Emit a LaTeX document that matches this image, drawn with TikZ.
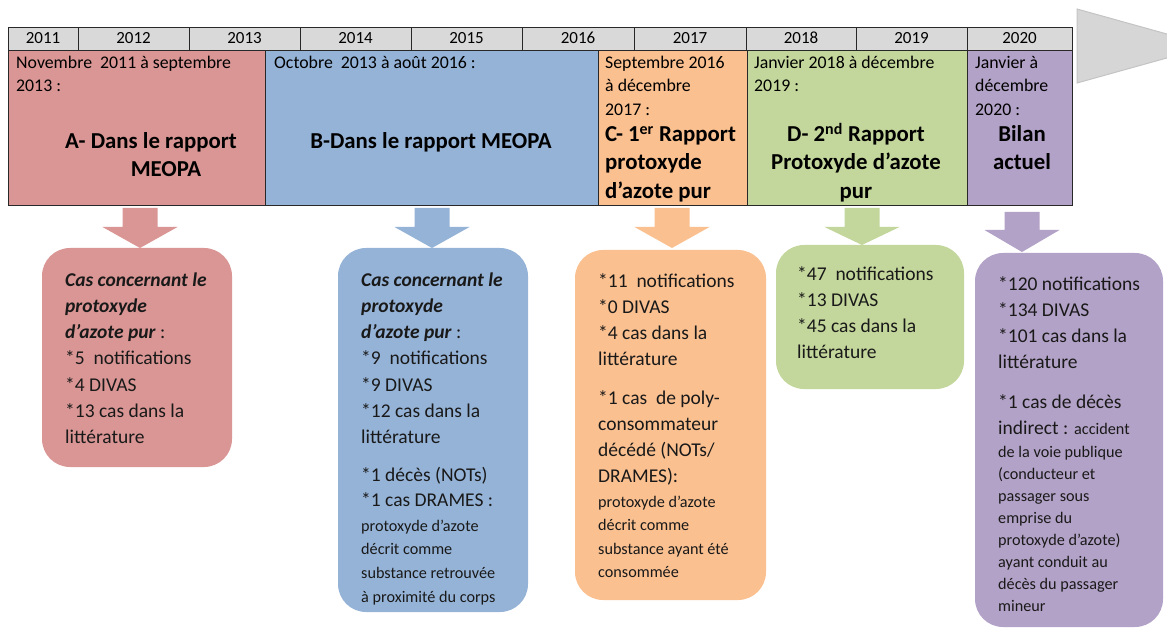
\documentclass[tikz,border=0pt]{standalone}
\usepackage{fontspec}
\setmainfont{Carlito}
\definecolor{redc}{RGB}{217,150,148}
\definecolor{bluec}{RGB}{149,179,215}
\definecolor{orangec}{RGB}{250,192,144}
\definecolor{greenc}{RGB}{195,214,155}
\definecolor{purplec}{RGB}{179,162,199}
\definecolor{yearc}{RGB}{217,217,217}
\definecolor{tric}{RGB}{214,214,214}
\definecolor{trib}{RGB}{196,196,196}
\definecolor{txt}{RGB}{25,25,25}
\definecolor{linec}{RGB}{40,40,40}
\newcommand\dnarrow[5]{\fill[#5] (#1-17.5,#2) -- (#1+17.5,#2) -- (#1+17.5,#3) -- (#1+37.5,#3) -- (#1,#4) -- (#1-37.5,#3) -- (#1-17.5,#3) -- cycle;}
\begin{document}
\begin{tikzpicture}[x=1pt,y=-1pt,
  yearcell/.style={draw=linec, line width=0.9pt, fill=yearc, minimum height=23pt, inner sep=0pt},
  yeartxt/.style={anchor=base, inner sep=0pt, font=\fontsize{17}{21}\selectfont},
  bandcell/.style={draw=linec, line width=0.9pt, minimum height=155pt, inner sep=0pt},
  bandsmall/.style={anchor=north west, inner sep=0pt, align=left, font=\fontsize{17.8}{23.5}\selectfont},
  titletxt/.style={inner sep=0pt, font=\bfseries\fontsize{22.8}{28.4}\selectfont},
  rbox/.style={rounded corners=28pt, inner sep=0pt},
  boxtext/.style={anchor=north west, inner sep=0pt, align=left, text=txt, font=\fontsize{19.5}{26.3}\selectfont},
  smalltext/.style={anchor=north west, inner sep=0pt, align=left, text=txt, font=\fontsize{16.2}{23.7}\selectfont}
]
\useasboundingbox (0,0) rectangle (1167,628);
\begin{scope}
\clip (0,0) rectangle (1167,628);
% grey timeline arrow head
\filldraw[fill=tric, draw=trib, line width=1pt] (1077,9) -- (1210,46) -- (1077,83) -- cycle;

% year row
\node[yearcell, minimum width=70pt]  (y2011) at (43,38.5) {};
\node[yearcell, minimum width=111pt] (y2012) at (133.5,38.5) {};
\node[yearcell, minimum width=111pt] (y2013) at (244.5,38.5) {};
\node[yearcell, minimum width=111pt] (y2014) at (355.5,38.5) {};
\node[yearcell, minimum width=111pt] (y2015) at (466.5,38.5) {};
\node[yearcell, minimum width=112pt] (y2016) at (578,38.5) {};
\node[yearcell, minimum width=112pt] (y2017) at (690,38.5) {};
\node[yearcell, minimum width=110pt] (y2018) at (801,38.5) {};
\node[yearcell, minimum width=111pt] (y2019) at (911.5,38.5) {};
\node[yearcell, minimum width=105pt] (y2020) at (1019.5,38.5) {};
\node[yeartxt] (t2011) at (43,44) {2011};
\node[yeartxt] (t2012) at (133.5,44) {2012};
\node[yeartxt] (t2013) at (244.5,44) {2013};
\node[yeartxt] (t2014) at (355.5,44) {2014};
\node[yeartxt] (t2015) at (466.5,44) {2015};
\node[yeartxt] (t2016) at (578,44) {2016};
\node[yeartxt] (t2017) at (690,44) {2017};
\node[yeartxt] (t2018) at (801,44) {2018};
\node[yeartxt] (t2019) at (911.5,44) {2019};
\node[yeartxt] (t2020) at (1019.5,44) {2020};

% coloured band
\node[bandcell, fill=redc, minimum width=257pt] (bandA) at (136.5,127.5) {};
\node[bandcell, fill=bluec, minimum width=333pt] (bandB) at (431.5,127.5) {};
\node[bandcell, fill=orangec, minimum width=149pt] (bandC) at (672.5,127.5) {};
\node[bandcell, fill=greenc, minimum width=220pt] (bandD) at (857,127.5) {};
\node[bandcell, fill=purplec, minimum width=105pt] (bandE) at (1019.5,127.5) {};

\node[bandsmall] (sA) at (16,51.5) {\strut Novembre\ \ 2011 à septembre\\2013 :};
\node[bandsmall] (sB) at (274,51.5) {\strut Octobre\ \ 2013 à août 2016 :};
\node[bandsmall] (sC) at (605,51.5) {\strut Septembre 2016\\à décembre\\2017 :};
\node[bandsmall] (sD) at (754,51.5) {\strut Janvier 2018 à décembre\\2019 :};
\node[bandsmall] (sE) at (975,51.5) {\strut Janvier à\\décembre\\2020 :};

\node[titletxt, anchor=north, align=center] (hA) at (151,128.5) {\strut A- Dans le rapport\\\hspace*{30pt}MEOPA};
\node[titletxt, anchor=north, align=center] (hB) at (431,128.5) {\strut B-Dans le rapport MEOPA};
\node[titletxt, anchor=north west, align=left] (hC) at (605,121.5) {\strut C- 1\textsuperscript{er} Rapport\\protoxyde\\d’azote pur};
\node[titletxt, anchor=north, align=center] (hD) at (856,121.5) {\strut D- 2\textsuperscript{nd} Rapport\\Protoxyde d’azote\\pur};
\node[titletxt, anchor=north, align=center] (hE) at (1022,121.5) {\strut Bilan\\actuel};

% block arrows
\dnarrow{140}{208}{227}{248}{redc}
\dnarrow{432}{208}{227}{248}{bluec}
\dnarrow{672}{208}{227}{248}{orangec}
\dnarrow{862}{208}{227}{245}{greenc}
\dnarrow{1022}{212}{230}{252}{purplec}

% rounded boxes
\node[rbox, fill=redc, minimum width=190pt, minimum height=219pt] (boxA) at (137,357.5) {};
\node[rbox, fill=bluec, minimum width=190pt, minimum height=364pt] (boxB) at (433,430) {};
\node[rbox, fill=orangec, minimum width=191pt, minimum height=350pt] (boxC) at (670.5,425) {};
\node[rbox, fill=greenc, minimum width=188pt, minimum height=144pt] (boxD) at (870,317) {};
\node[rbox, fill=purplec, minimum width=188pt, minimum height=374pt] (boxE) at (1069,440) {};

% box texts
\node[boxtext] (bA) at (65,267.4) {\strut\textbf{\textit{Cas concernant le}}\\\textbf{\textit{protoxyde}}\\\textbf{\textit{d’azote pur}} :\\*5\ \ notifications\\*4 DIVAS\\*13 cas dans la\\littérature};

\node[boxtext] (bB1) at (361,267.4) {\strut\textbf{\textit{Cas concernant le}}\\\textbf{\textit{protoxyde}}\\\textbf{\textit{d’azote pur}} :\\*9\ \ notifications\\*9 DIVAS\\*12 cas dans la\\littérature};
\node[boxtext, font=\fontsize{19.5}{25}\selectfont] (bB2) at (361,464) {\strut *1 décès (NOTs)\\*1 cas DRAMES :};
\node[smalltext] (bB3) at (361,514.5) {\strut protoxyde d’azote\\décrit comme\\substance retrouvée\\à proximité du corps};

\node[boxtext, font=\fontsize{19.5}{26}\selectfont] (bC1) at (598,269.5) {\strut *11\ \ notifications\\*0 DIVAS\\*4 cas dans la\\littérature};
\node[boxtext, font=\fontsize{19.5}{26}\selectfont] (bC2) at (598,386.5) {\strut *1 cas\ \ de poly-\\consommateur\\décédé (NOTs/\\DRAMES):};
\node[smalltext, font=\fontsize{16.2}{23.3}\selectfont] (bC3) at (598,491) {\strut protoxyde d’azote\\décrit comme\\substance ayant été\\consommée};

\node[boxtext] (bD) at (797,261.4) {\strut *47\ \ notifications\\*13 DIVAS\\*45 cas dans la\\littérature};

\node[boxtext, font=\fontsize{19.5}{26}\selectfont] (bE1) at (998,272.5) {\strut *120 notifications\\*134 DIVAS\\*101 cas dans la\\littérature};
\node[boxtext, font=\fontsize{19.5}{26}\selectfont] (bE2) at (998,390.5) {\strut *1 cas de décès\\indirect : {\fontsize{16.2}{22}\selectfont accident}};
\node[smalltext, font=\fontsize{16.2}{22.1}\selectfont] (bE3) at (998,441.5) {\strut de la voie publique\\(conducteur et\\passager sous\\emprise du\\protoxyde d’azote)\\ayant conduit au\\décès du passager\\mineur};
\end{scope}
\end{tikzpicture}
\end{document}
